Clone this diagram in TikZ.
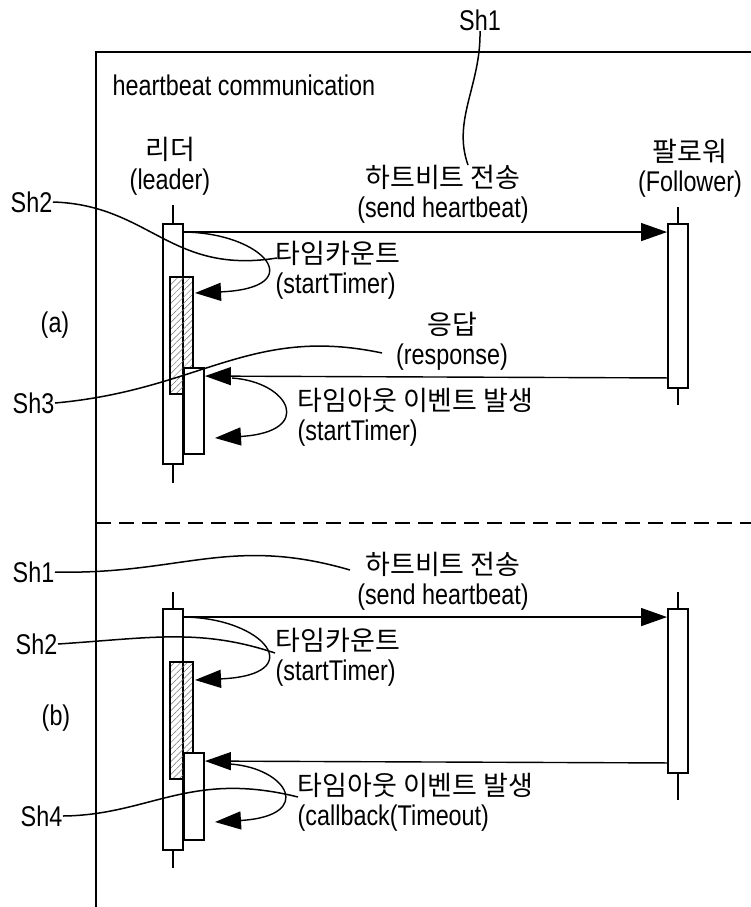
\documentclass[tikz,border=0pt]{standalone}
\usepackage{fontspec}
\setmainfont{Liberation Sans}[FakeStretch=0.82]
\newfontfamily\kr{Noto Sans CJK KR}
\usetikzlibrary{arrows.meta,patterns.meta,calc}
\newcommand\kt[1]{{\kr\fontsize{27}{30}\selectfont #1}}
\begin{document}
\begin{tikzpicture}[x=1pt,y=-1pt,line width=1.4pt,
  font=\fontsize{28.5}{30}\selectfont, inner sep=0pt,
  lbl/.style={inner sep=0pt, align=center},
  lbll/.style={inner sep=0pt, align=left, anchor=west},
  actbox/.style={draw, fill=white, line width=1.9pt, minimum width=20pt, inner sep=0pt, rectangle},
  hatchbox/.style={draw, line width=1.9pt, pattern={Lines[angle=45,distance=4.5pt,line width=0.5pt]}, pattern color=black!55, minimum width=23pt, inner sep=0pt, rectangle},
  msg/.style={-{Triangle[length=26pt,width=18pt]}, line width=1.4pt},
  lead/.style={line width=1.5pt},
  lifeline/.style={line width=1.4pt}]
\useasboundingbox (0,0) rectangle (751,907);
% frame
\draw[line width=1.5pt] (96,907) -- (96,52) -- (751,52);
\draw[line width=1.4pt, dash pattern=on 15pt off 8pt] (96,523) -- (751,523);
\node[anchor=base west] (title) at (112,95) {heartbeat communication};

% ---------- (a) ----------
\node[lbl] (leader) at (170,166) {\kt{리더}\\(leader)};
\node[lbl] (follower) at (690,168) {\kt{팔로워}\\(Follower)};
\coordinate (LAt) at (173,205); \coordinate (LAb) at (173,483);
\coordinate (FAt) at (678,207); \coordinate (FAb) at (678,405);
\draw[lifeline] (LAt) -- (LAb);
\draw[lifeline] (FAt) -- (FAb);
\node[actbox, minimum height=240pt] (LA) at (173,344) {};
\node[hatchbox, minimum height=117pt] (HA) at (181.5,335.5) {};
\node[actbox, minimum height=86pt] (RA) at (194,411) {};
\node[actbox, minimum height=164pt] (FA) at (678,306) {};

\node[lbl] (sendA) at (443,194) {\kt{하트비트 전송}\\(send heartbeat)};
\node[lbll] (timerA) at (275,270) {\kt{타임카운트}\\(startTimer)};
\node[lbl] (respA) at (452,341) {\kt{응답}\\(response)};
\node[lbll] (timeoutA) at (297,417) {\kt{타임아웃 이벤트 발생}\\(startTimer)};
\node (labA) at (55,325) {(a)};

\draw[msg] ([yshift=-9pt]LA.north east) -- ([yshift=-9pt]FA.north west);
\draw[msg] ([yshift=11pt]FA.south west) -- ([yshift=-9pt]RA.north east);
\coordinate (tmA) at (195,293);
\draw[msg] ([yshift=-9pt]LA.north east) .. controls (265,233) and (310,288) .. (tmA);
\coordinate (toAs) at (232,378); \coordinate (toAe) at (215,438);
\draw[msg] (toAs) .. controls (290,382) and (315,432) .. (toAe);

\node (sh1a) at (480,20) {Sh1};
\node[anchor=east] (sh2a) at (53,202) {Sh2};
\node[anchor=east] (sh3a) at (55,403) {Sh3};
\coordinate (e1a) at (468,165);
\coordinate (e2a) at (277,258);
\coordinate (e3a) at (382,353);
\draw[lead] (sh1a.south) .. controls (481,85) and (452,120) .. (e1a);
\draw[lead] (sh2a.east) .. controls (150,205) and (170,275) .. (e2a);
\draw[lead] (sh3a.east) .. controls (200,390) and (250,325) .. (e3a);

% ---------- (b) ----------
\coordinate (LBt) at (173,592); \coordinate (LBb) at (173,868);
\coordinate (FBt) at (678,592); \coordinate (FBb) at (678,800);
\draw[lifeline] (LBt) -- (LBb);
\draw[lifeline] (FBt) -- (FBb);
\node[actbox, minimum height=241pt] (LB) at (173,729.5) {};
\node[hatchbox, minimum height=117pt] (HB) at (181.5,720.5) {};
\node[actbox, minimum height=87pt] (RB) at (194,796.5) {};
\node[actbox, minimum height=164pt] (FB) at (678,691) {};

\node[lbl] (sendB) at (443,581) {\kt{하트비트 전송}\\(send heartbeat)};
\node[lbll] (timerB) at (275,657) {\kt{타임카운트}\\(startTimer)};
\node[lbll] (timeoutB) at (297,802) {\kt{타임아웃 이벤트 발생}\\(callback(Timeout)};
\node (labB) at (56,718) {(b)};

\draw[msg] ([yshift=-9pt]LB.north east) -- ([yshift=-9pt]FB.north west);
\draw[msg] ([yshift=11pt]FB.south west) -- ([yshift=-9pt]RB.north east);
\coordinate (tmB) at (195,680);
\draw[msg] ([yshift=-9pt]LB.north east) .. controls (265,618) and (310,675) .. (tmB);
\coordinate (toBs) at (230,764); \coordinate (toBe) at (215,822);
\draw[msg] (toBs) .. controls (288,768) and (315,816) .. (toBe);

\node[anchor=east] (sh1b) at (55,572) {Sh1};
\node[anchor=east] (sh2b) at (58,644) {Sh2};
\node[anchor=east] (sh4) at (63,816) {Sh4};
\coordinate (e1b) at (350,570);
\coordinate (e2b) at (275,653);
\coordinate (e4) at (298,797);
\draw[lead] (sh1b.east) .. controls (180,575) and (230,535) .. (e1b);
\draw[lead] (sh2b.east) .. controls (150,638) and (200,628) .. (e2b);
\draw[lead] (sh4.east) .. controls (150,815) and (190,770) .. (e4);
\end{tikzpicture}
\end{document}
